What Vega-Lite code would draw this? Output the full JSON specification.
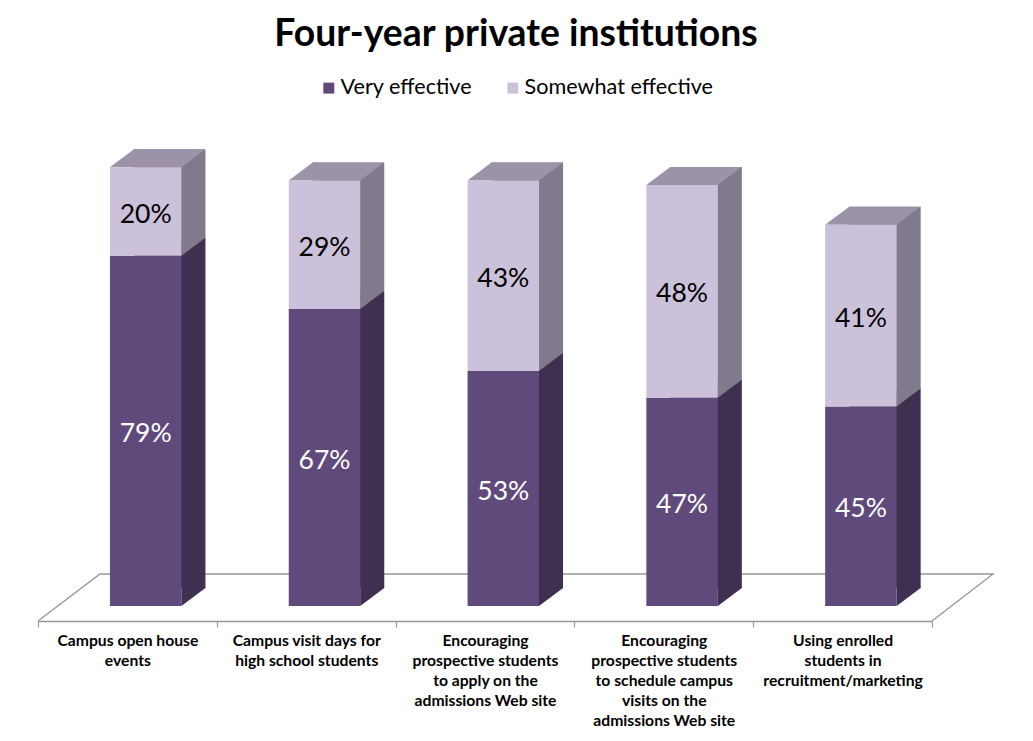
{
"$schema":"https://vega.github.io/schema/vega-lite/v6.json",
"width":894,"height":491,
"autosize":{"type":"none"},
"padding":{"left":38,"top":130,"right":101,"bottom":120},
"background":"white",
"view":{"stroke":null},
"title":{"text":"Four-year private institutions","font":"Lato","fontSize":37.3,"fontWeight":"bold","color":"#000000","anchor":"middle","dx":31,"offset":23},
"data":{"values":[
{"category":"Campus open house\nevents","series":"Very effective","order":1,"value":79},
{"category":"Campus open house\nevents","series":"Somewhat effective","order":2,"value":20},
{"category":"Campus visit days for\nhigh school students","series":"Very effective","order":1,"value":67},
{"category":"Campus visit days for\nhigh school students","series":"Somewhat effective","order":2,"value":29},
{"category":"Encouraging\nprospective students\nto apply on the\nadmissions Web site","series":"Very effective","order":1,"value":53},
{"category":"Encouraging\nprospective students\nto apply on the\nadmissions Web site","series":"Somewhat effective","order":2,"value":43},
{"category":"Encouraging\nprospective students\nto schedule campus\nvisits on the\nadmissions Web site","series":"Very effective","order":1,"value":47},
{"category":"Encouraging\nprospective students\nto schedule campus\nvisits on the\nadmissions Web site","series":"Somewhat effective","order":2,"value":48},
{"category":"Using enrolled\nstudents in\nrecruitment/marketing","series":"Very effective","order":1,"value":45},
{"category":"Using enrolled\nstudents in\nrecruitment/marketing","series":"Somewhat effective","order":2,"value":41}
]},
"transform":[{"stack":"value","groupby":["category"],"sort":[{"field":"order","order":"ascending"}],"as":["y0","y1"]}],
"encoding":{
"x":{"field":"category","type":"nominal","sort":null,"scale":{"domain":["Campus open house\nevents","Campus visit days for\nhigh school students","Encouraging\nprospective students\nto apply on the\nadmissions Web site","Encouraging\nprospective students\nto schedule campus\nvisits on the\nadmissions Web site","Using enrolled\nstudents in\nrecruitment/marketing"],"paddingInner":0,"paddingOuter":0},
"axis":{"title":null,"labelAngle":0,"labelExpr":"isValid(datum.value)?split(datum.value,'\\n'):''","labelFont":"Lato","labelFontSize":15.7,"labelFontWeight":"bold","labelColor":"#000000","labelLineHeight":20,"labelPadding":6,"labelLimit":200,"domainColor":"#989898","domainWidth":1.4,"tickColor":"#989898","tickWidth":1.2,"tickSize":6,"tickBand":"extent","grid":false}},
"y":{"field":"y0","type":"quantitative","scale":{"domain":[-3.39,107.4],"nice":false,"zero":false},"axis":null}
},
"layer":[
{"transform":[{"filter":"datum.order==1 && indexof(datum.category,'apply')>=0"}],
 "mark":{"type":"point","shape":"M-447,15L-385,-32L508,-32L447,15","size":4,"filled":false,"stroke":"#989898","strokeWidth":1.4,"opacity":1},
 "encoding":{"y":{"datum":0}}},
{"mark":{"type":"bar","width":71.5,"xOffset":42.3,"yOffset":-18,"y2Offset":-18},
 "encoding":{"y2":{"field":"y1"},"fill":{"condition":{"test":"datum.order==1","value":"#3F2F50"},"value":"#807A8C"}}},
{"mark":{"type":"point","shape":"M54,0L78,-18L78,-18.7L54,-18.7Z","size":4,"filled":true,"opacity":1,"strokeWidth":0},
 "encoding":{"fill":{"condition":{"test":"datum.order==1","value":"#3F2F50"},"value":"#807A8C"}}},
{"transform":[{"filter":"datum.order==2"}],
 "mark":{"type":"point","shape":"M-17.5,0L54,0L78,-18L6.5,-18Z","size":4,"filled":true,"opacity":1,"strokeWidth":0,"fill":"#9D93A8"},
 "encoding":{"y":{"field":"y1"}}},
{"mark":{"type":"bar","width":71.5,"xOffset":18.3},
 "encoding":{"y2":{"field":"y1"},"color":{"field":"series","type":"nominal","scale":{"domain":["Very effective","Somewhat effective"],"range":["#604A7B","#CCC1DA"]},
 "legend":{"title":null,"orient":"none","legendX":280,"legendY":-53,"direction":"horizontal","columns":2,"labelFont":"Lato","labelFontSize":21.6,"labelColor":"#000000","labelOffset":1,"symbolType":"square","symbolSize":120,"symbolStrokeWidth":0,"columnPadding":29,"labelLimit":300}}}},
{"mark":{"type":"text","font":"Lato","fontSize":26.5,"xOffset":18.3,"yOffset":3,"baseline":"middle"},
 "encoding":{"y":{"field":"mid","type":"quantitative"},"text":{"field":"label"},"fill":{"condition":{"test":"datum.order==1","value":"#FFFFFF"},"value":"#000000"}},
 "transform":[{"calculate":"(datum.y0+datum.y1)/2","as":"mid"},{"calculate":"datum.value+'%'","as":"label"}]}
]
}
